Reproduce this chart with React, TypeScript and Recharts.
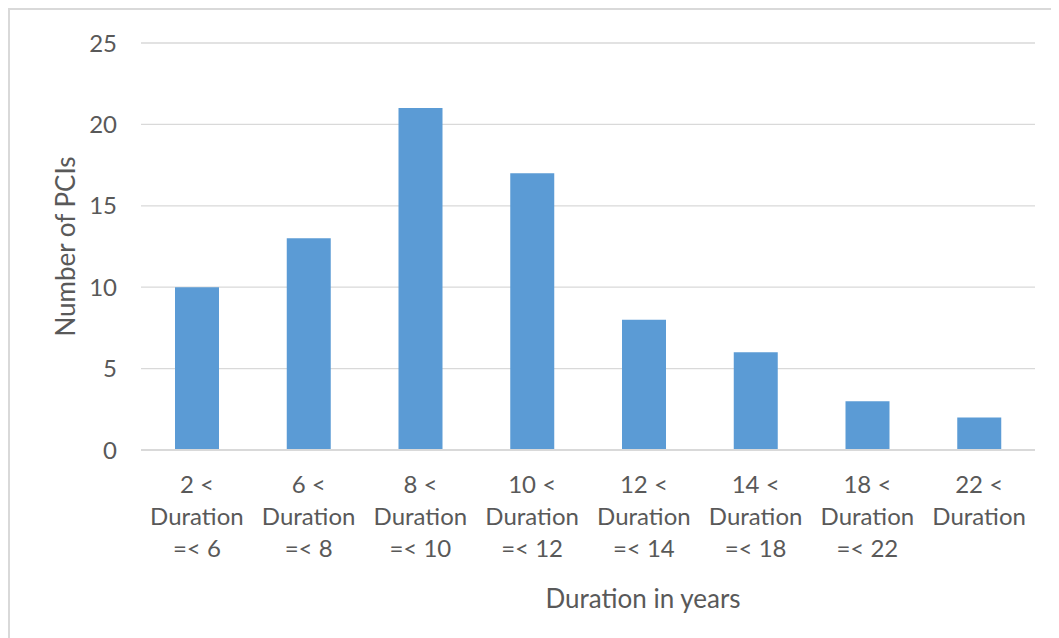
import React from 'react';
import { BarChart, Bar, XAxis, YAxis, CartesianGrid, Label } from 'recharts';

const categories: string[] = [
  '2 <|Duration|=< 6',
  '6 <|Duration|=< 8',
  '8 <|Duration|=< 10',
  '10 <|Duration|=< 12',
  '12 <|Duration|=< 14',
  '14 <|Duration|=< 18',
  '18 <|Duration|=< 22',
  '22 <|Duration',
];
const counts: number[] = [10, 13, 21, 17, 8, 6, 3, 2];
const yTicks: number[] = [0, 5, 10, 15, 20, 25];

const data = categories.map((c, i) => ({ cat: c, value: counts[i] }));

const FONT = 'Lato, "Open Sans", sans-serif';
const TEXT = '#595959';

const XTick = (props: any) => {
  const { x, y, payload } = props;
  const lines = String(payload.value).split('|');
  return (
    <g>
      {lines.map((l, i) => (
        <text key={i} x={x} y={y + 35 + i * 32} textAnchor="middle" fill={TEXT} fontSize={24} fontFamily={FONT}>
          {l}
        </text>
      ))}
    </g>
  );
};

export default function App() {
  return (
    <div style={{ width: 1049, height: 628, borderTop: '2px solid #d9d9d9', borderLeft: '2px solid #d9d9d9', background: '#fff' }}>
      <BarChart width={1049} height={628} data={data} margin={{ top: 33, right: 24, left: 71, bottom: 38 }} barSize={44}>
        <CartesianGrid vertical={false} stroke="#d9d9d9" strokeWidth={1.3} />
        <XAxis
          dataKey="cat"
          interval={0}
          height={150}
          axisLine={{ stroke: '#d9d9d9', strokeWidth: 2 }}
          tickLine={false}
          tick={<XTick />}
        >
          <Label
            content={(p: any) => {
              const vb = p.viewBox || {};
              return (
                <text x={633} y={(vb.y || 440) + 158} textAnchor="middle" fill={TEXT} fontSize={26} fontFamily={FONT}>
                  Duration in years
                </text>
              );
            }}
          />
        </XAxis>
        <YAxis
          width={60}
          domain={[0, 25]}
          ticks={yTicks}
          axisLine={false}
          tickLine={false}
          tickSize={0}
          tickMargin={24}
          tick={{ fill: TEXT, fontSize: 24, fontFamily: FONT }}
        >
          <Label
            content={(p: any) => {
              const vb = p.viewBox || {};
              const cy = (vb.y || 33) + (vb.height || 407) / 2;
              return (
                <text x={55} y={cy} transform={`rotate(-90, 55, ${cy})`} textAnchor="middle" dominantBaseline="central" fill={TEXT} fontSize={26} fontFamily={FONT}>
                  Number of PCIs
                </text>
              );
            }}
          />
        </YAxis>
        <Bar dataKey="value" fill="#5b9bd5" isAnimationActive={false} />
      </BarChart>
    </div>
  );
}
